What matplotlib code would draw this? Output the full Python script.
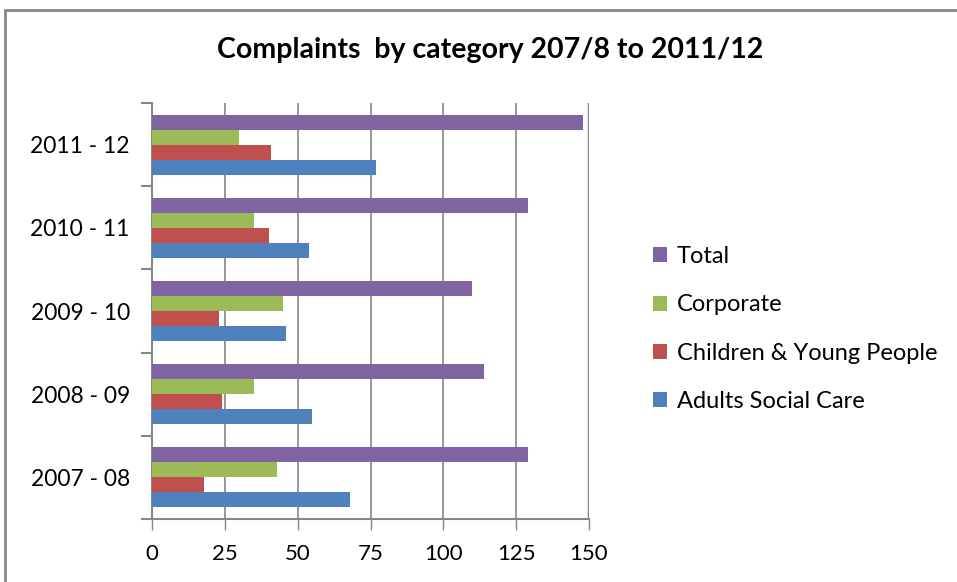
import matplotlib

matplotlib.use("Agg")
import matplotlib.pyplot as plt
import numpy as np
from matplotlib.patches import Rectangle

years = ["2007 - 08", "2008 - 09", "2009 - 10", "2010 - 11", "2011 - 12"]
adults = [68, 55, 46, 54, 77]
children = [18, 24, 23, 40, 41]
corporate = [43, 35, 45, 35, 30]
total = [129, 114, 110, 129, 148]
x_ticks = [0, 25, 50, 75, 100, 125, 150]

series = [
    ("Adults Social Care", adults, "#4F81BD"),
    ("Children & Young People", children, "#C0504D"),
    ("Corporate", corporate, "#9BBB59"),
    ("Total", total, "#8064A2"),
]

plt.rcParams["font.family"] = ["Lato", "DejaVu Sans"]
grey = "#868686"

fig = plt.figure(figsize=(9.57, 5.82), dpi=100)
fig.patches.append(
    Rectangle((5 / 957, -0.1), 1.1, 1.1 - 10 / 582, transform=fig.transFigure,
              fill=False, edgecolor=grey, linewidth=2)
)
ax = fig.add_axes([152 / 957, 1 - 519 / 582, 437 / 957, 416 / 582])

pos = np.arange(len(years))
h = 0.18
handles = []
for i, (label, values, color) in enumerate(series):
    bars = ax.barh(pos + (i - 1.5) * h, values, height=h, color=color,
                   label=label, zorder=3)
    handles.append(bars)

ax.set_xlim(0, 150)
ax.set_ylim(-0.5, len(years) - 0.5)
ax.set_xticks(x_ticks)
ax.set_xticklabels([str(t) for t in x_ticks], fontsize=16)
ax.set_yticks(pos)
ax.set_yticklabels(years, fontsize=16.5)
ax.set_yticks(np.arange(-0.5, len(years), 1), minor=True)
ax.tick_params(axis="y", which="major", length=0, pad=16)
ax.tick_params(axis="y", which="minor", length=8, width=1.5, color=grey)
ax.tick_params(axis="x", length=8, width=1, color=grey, pad=10)
ax.grid(axis="x", color=grey, linewidth=1.2, zorder=0)
ax.axvline(150, color=grey, linewidth=2.5, zorder=1)
for side in ["top", "right"]:
    ax.spines[side].set_visible(False)
for side in ["left", "bottom"]:
    ax.spines[side].set_color(grey)
    ax.spines[side].set_linewidth(1.5)

fig.text(490 / 957, 1 - 50 / 582, "Complaints  by category 207/8 to 2011/12",
         ha="center", va="center", fontsize=20.5, fontweight="bold")

leg = fig.legend(handles[::-1], [s[0] for s in series][::-1],
                 loc="center left", bbox_to_anchor=(632 / 957, 1 - 329 / 582),
                 frameon=False, fontsize=17, handlelength=0.6, handleheight=0.6,
                 handletextpad=0.4, labelspacing=1.15)

fig.savefig("out.png", dpi=100)
